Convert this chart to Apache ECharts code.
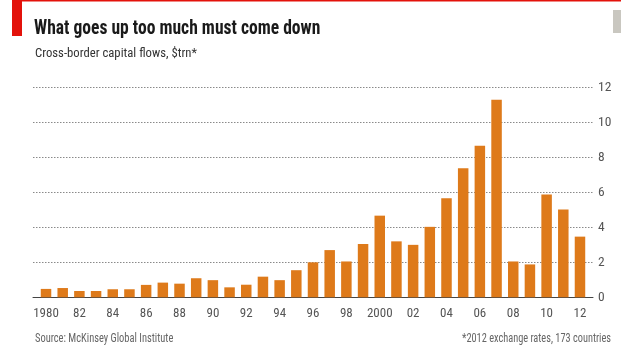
<!DOCTYPE html>
<html><head><meta charset="utf-8">
<script src="https://cdn.jsdelivr.net/npm/echarts@6/dist/echarts.min.js"></script>
<style>html,body{margin:0;padding:0;background:#fff}#c{width:621px;height:347px}</style>
</head><body><div id="c"></div>
<script>
const years = [1980,1981,1982,1983,1984,1985,1986,1987,1988,1989,1990,1991,1992,1993,1994,1995,1996,1997,1998,1999,2000,2001,2002,2003,2004,2005,2006,2007,2008,2009,2010,2011,2012];
const flows = [0.48,0.53,0.36,0.36,0.46,0.46,0.71,0.84,0.78,1.09,0.98,0.57,0.72,1.18,0.98,1.55,2.0,2.7,2.05,3.05,4.67,3.2,3.0,4.03,5.67,7.38,8.67,11.3,2.05,1.88,5.88,5.02,3.47];
const xTickYears = [1980,1982,1984,1986,1988,1990,1992,1994,1996,1998,2000,2002,2004,2006,2008,2010,2012];
const yTicks = [0,2,4,6,8,10,12];
const titleText = 'What goes up too much must come down';
const subtitleText = 'Cross-border capital flows, $trn*';
const sourceText = 'Source: McKinsey Global Institute';
const noteText = '*2012 exchange rates, 173 countries';

const FONT = '"Roboto Condensed","Open Sans Condensed",sans-serif';
const chart = echarts.init(document.getElementById('c'), null, {renderer:'canvas'});
chart.setOption({
  animation:false,
  backgroundColor:'#fff',
  graphic:[
    {type:'rect', shape:{x:22,y:0,width:599,height:1.5}, style:{fill:'#e3120b'}},
    {type:'rect', shape:{x:12,y:0,width:10,height:36}, style:{fill:'#e3120b'}},
    {type:'rect', shape:{x:613,y:10,width:8,height:23}, style:{fill:'#c9c7c0'}},
    {type:'text', x:34, y:19, scaleX:0.9, originX:0, originY:0,
      style:{text:titleText, font:'bold 19.5px '+FONT, fill:'#1a1a1a'}},
    {type:'text', x:35, y:47, scaleX:0.94, originX:0, originY:0,
      style:{text:subtitleText, font:'13.5px '+FONT, fill:'#333'}},
    {type:'text', x:35, y:333, scaleX:0.87, originX:0, originY:0,
      style:{text:sourceText, font:'12px '+FONT, fill:'#666'}},
    {type:'text', x:611, y:333, scaleX:0.86, originX:0, originY:0,
      style:{text:noteText, font:'12px '+FONT, fill:'#666', align:'right'}}
  ],
  grid:{left:33, right:28, top:87.5, bottom:49.7},
  xAxis:{
    type:'value', min:1979.22, max:2012.78,
    axisLine:{show:true, onZero:false, lineStyle:{color:'#444', width:1}},
    axisTick:{show:false},
    splitLine:{show:false},
    axisLabel:{
      customValues:xTickYears, margin:10, color:'#555', fontSize:13, fontFamily:FONT,
      formatter:function(v){ return (v===1980||v===2000)? String(v) : String(v).slice(2); }
    }
  },
  yAxis:{
    type:'value', position:'right', min:0, max:12, interval:2,
    axisLine:{show:false}, axisTick:{show:false},
    axisLabel:{margin:5, color:'#555', fontSize:13.5, fontFamily:FONT,
      customValues:yTicks},
    splitLine:{show:true, lineStyle:{type:[1.5,1.5], color:'#8a8a8a', width:1}}
  },
  series:[{
    type:'bar', barWidth:10.5,
    data: years.map((y,i)=>[y, flows[i]]),
    itemStyle:{color:'#de7a1a'}
  }]
});
</script></body></html>
